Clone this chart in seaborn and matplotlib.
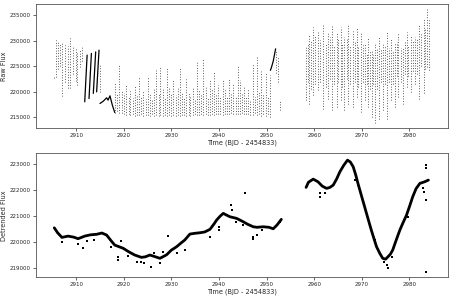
import numpy as np
import pandas as pd
import matplotlib.pyplot as plt
import seaborn as sns

# ---------------- raw flux (top panel) ----------------
# dotted near-vertical streaks: time, lowest flux, highest flux
streak_t = [2905.3, 2905.7, 2906.2, 2906.7, 2907.1, 2907.6, 2908.2, 2908.8, 2909.4, 2909.9,
            2910.2, 2910.8, 2911.2, 2915.0,
            2918.1, 2918.5, 2919.1, 2919.6, 2920.1, 2920.5, 2921.0, 2921.4, 2921.9, 2922.3,
            2922.8, 2923.2, 2923.7, 2924.1, 2924.6, 2925.0, 2925.5, 2925.9, 2926.4, 2926.8,
            2927.3, 2927.7, 2928.2, 2928.6, 2929.1, 2929.5, 2930.0, 2930.4, 2930.9, 2931.3,
            2931.8, 2932.2, 2932.7, 2933.1, 2933.6, 2934.0, 2934.5, 2934.9, 2935.4, 2935.8,
            2936.3, 2936.7, 2937.2, 2937.6, 2938.1, 2938.5, 2939.0, 2939.4, 2939.9, 2940.3,
            2940.8, 2941.2, 2941.7, 2942.1, 2942.6, 2943.0, 2943.5, 2943.9, 2944.4, 2944.8,
            2945.3, 2945.7, 2946.2, 2946.6, 2947.1, 2947.5, 2948.0, 2948.4, 2948.9, 2949.3,
            2949.8, 2950.2, 2950.7, 2952.0, 2952.4, 2952.8,
            2958.3, 2958.6, 2959.0, 2959.4, 2959.8, 2960.2, 2960.7, 2961.3, 2961.9, 2962.4,
            2963.0, 2963.4, 2963.7, 2964.2, 2964.7, 2965.1, 2965.6, 2965.9, 2966.3, 2966.8,
            2967.2, 2967.6, 2968.1, 2968.5, 2968.9, 2969.3, 2969.8, 2970.2, 2970.7, 2971.0,
            2971.4, 2971.8, 2972.1, 2972.4, 2972.8, 2973.3, 2973.7, 2974.1, 2974.5, 2974.9,
            2975.2, 2975.7, 2976.1, 2976.5, 2977.0, 2977.3, 2977.7, 2978.2, 2978.6, 2979.0,
            2979.4, 2979.8, 2980.3, 2980.7, 2981.2, 2981.6, 2982.1, 2982.5, 2983.0, 2983.3,
            2983.6, 2984.2]
streak_lo = [222700, 222900, 224500, 225000, 219100, 221900, 220800, 220700, 223500, 222100,
             221300, 224900, 226000, 220000,
             215900, 216200, 215800, 215900, 215600, 215500, 215700, 215400, 215600, 215300,
             215500, 215400, 215600, 215300, 215500, 215400, 215300, 215600, 215300, 215400,
             215200, 215500, 215300, 215400, 215300, 215500, 215200, 215400, 215300, 215400,
             215300, 215500, 215400, 215300, 215500, 215300, 215400, 215600, 215400, 215500,
             215600, 215400, 215600, 215500, 215400, 215700, 215500, 215600, 215600, 215700,
             215500, 215700, 215600, 215700, 215800, 215600, 215700, 215600, 215700, 215800,
             215600, 215700, 215600, 215500, 215400, 215800, 215500, 215600, 215300, 215700,
             215300, 215600, 215100, 223600, 222000, 216400,
             218400, 222000, 217700, 220500, 219300, 221500, 220300, 222000, 216700, 221000,
             218700, 222500, 216400, 221500, 217100, 222000, 218400, 221000, 216400, 222500,
             217700, 221500, 217100, 222000, 219000, 221000, 216000, 222000, 218400, 221500,
             217100, 220500, 215100, 221500, 214000, 220500, 214800, 222000, 216400, 221500,
             214800, 222000, 218400, 221500, 217100, 223000, 219000, 222000, 217700, 223500,
             220900, 223000, 220000, 224000, 221600, 223500, 218700, 225000, 219700, 224500,
             224900, 224200]
streak_hi = [223000, 230100, 229800, 229500, 229500, 229100, 228900, 230500, 228800, 228300,
             227800, 228100, 229000, 225200,
             222000, 219500, 225500, 220300, 219700, 221500, 219000, 220200, 218800, 221300,
             219300, 222900, 219000, 220400, 218700, 223000, 219600, 218600, 220800, 224200,
             219700, 224900, 220500, 218900, 224900, 221000, 219500, 222300, 219300, 220700,
             224900, 219800, 218800, 222600, 220000, 219000, 221000, 218600, 225800, 220500,
             219500, 226500, 221200, 219000, 222300, 220500, 223900, 219500, 221400, 219200,
             222600, 220300, 219000, 222800, 219800, 221500, 218900, 225100, 222300, 219600,
             221000, 219000, 220500, 218500, 225700, 219000, 226800, 220000, 224200, 219300,
             223600, 219000, 223300, 228100, 226800, 218400,
             228800, 229500, 231100, 230000, 232700, 231000, 231800, 230200, 233100, 229600,
             231400, 230800, 233100, 229000, 231700, 230500, 232700, 229300, 230800, 230300,
             233000, 229000, 231800, 229800, 232700, 228800, 231700, 229200, 229500, 227500,
             230500, 228000, 228200, 227200, 229500, 228600, 230800, 228300, 229500, 229000,
             231700, 228600, 230500, 228000, 229500, 229800, 231400, 228500, 228800, 229800,
             231700, 229200, 231100, 230000, 230800, 230500, 233000, 231500, 234300, 232500,
             236100, 234000]

# solid runs (closely packed points that read as lines)
run_id = [0, 0, 1, 1, 2, 2, 3, 3,
          4, 4, 4, 4, 4, 4, 4,
          5, 5, 5, 5]
run_t = [2911.8, 2912.3, 2912.7, 2913.2, 2913.6, 2914.1, 2914.3, 2914.8,
         2915.0, 2915.7, 2916.4, 2916.7, 2917.1, 2917.6, 2918.1,
         2950.8, 2951.0, 2951.4, 2951.9]
run_flux = [218050, 227180, 218700, 227500, 219700, 227800, 220000, 228150,
            217730, 218190, 218840, 218380, 219230, 217410, 215970,
            224200, 224700, 226000, 228400]

# ---------------- detrended flux (bottom panel) ----------------
det_seg = [0] * 48 + [1] * 38
det_t = [2905.4, 2906.1, 2907.0, 2908.3, 2909.5, 2910.4, 2911.8, 2913.0, 2914.3, 2915.4,
         2916.4, 2917.3, 2918.1, 2919.9, 2921.0, 2922.3, 2923.7, 2924.5, 2925.5, 2926.5,
         2927.6, 2928.5, 2929.0, 2930.0, 2931.1, 2932.0, 2932.8, 2933.9, 2935.0, 2936.0,
         2937.0, 2938.1, 2939.0, 2939.5, 2940.3, 2940.9, 2941.6, 2942.3, 2943.7, 2945.1,
         2946.0, 2947.2, 2948.0, 2949.3, 2950.5, 2951.4, 2952.2, 2953.1,
         2958.3, 2958.8, 2959.8, 2960.8, 2961.7, 2962.6, 2963.3, 2964.0, 2964.7, 2965.4,
         2966.2, 2967.0, 2967.6, 2968.2, 2968.7, 2969.2, 2969.9, 2970.6, 2971.3, 2972.0,
         2972.6, 2973.1, 2973.8, 2974.4, 2975.0, 2975.5, 2976.0, 2976.5, 2977.2, 2978.0,
         2978.7, 2979.4, 2980.0, 2980.7, 2981.4, 2982.2, 2983.2, 2984.0]
det_flux = [220540, 220350, 220170, 220220, 220180, 220120, 220220, 220270, 220290, 220340,
            220260, 220050, 219875, 219748, 219620, 219490, 219400, 219420, 219490, 219430,
            219363, 219450, 219500, 219680, 219810, 219950, 220068, 220300, 220330, 220350,
            220380, 220480, 220700, 220840, 221000, 221098, 221030, 220967, 220905, 220774,
            220680, 220581, 220560, 220581, 220560, 220504, 220650, 220867,
            222100, 222300, 222420, 222317, 222150, 222062, 222100, 222189, 222420, 222702,
            222950, 223153, 223080, 222895, 222600, 222255, 221800, 221352, 220900, 220454,
            220100, 219810, 219550, 219363, 219330, 219424, 219520, 219683, 220050, 220454,
            220750, 221032, 221350, 221738, 222050, 222255, 222317, 222382]

out_t = [2907.0, 2910.4, 2911.5, 2912.2, 2913.8, 2917.4, 2918.7, 2918.7, 2919.5, 2920.8,
         2922.7, 2923.6, 2924.3, 2925.7, 2926.4, 2927.6, 2928.2, 2929.3, 2931.1, 2932.8,
         2938.1, 2940.0, 2940.1, 2942.6, 2942.8, 2943.5, 2945.1, 2945.4, 2947.2, 2947.2,
         2948.0, 2949.1, 2952.8,
         2961.2, 2961.3, 2962.2, 2965.7, 2968.5, 2969.2, 2972.7, 2974.7, 2975.2, 2975.6,
         2976.3, 2979.7, 2982.8, 2983.0, 2983.4, 2983.4, 2983.4, 2983.4]
out_flux = [220000, 219915, 219750, 220040, 220070, 219790, 219410, 219300, 220030, 219450,
            219230, 219230, 219170, 219040, 219550, 219190, 219620, 220220, 219550, 219680,
            220200, 220450, 220590, 221420, 221230, 220770, 220650, 221870, 220170, 220100,
            220280, 220450, 220770,
            221870, 221740, 221870, 222770, 222380, 222190, 220070, 219230, 219110, 218980,
            219420, 220970, 222060, 221930, 222960, 222830, 221610, 218850]

# ---------------- tables ----------------
n = len(streak_t)
streaks = pd.DataFrame({
    "id": np.repeat(np.arange(n), 2),
    "time": np.repeat(streak_t, 2),
    "flux": np.column_stack([streak_lo, streak_hi]).ravel(),
})
runs = pd.DataFrame({"id": run_id, "time": run_t, "flux": run_flux})
det = pd.DataFrame({"seg": det_seg, "time": det_t, "flux": det_flux})
outl = pd.DataFrame({"time": out_t, "flux": out_flux})

sns.set_style("ticks")
plt.rcParams['font.family'] = ['DejaVu Sans']

fig, (ax1, ax2) = plt.subplots(2, 1, figsize=(4.52, 2.97), dpi=100)
fig.subplots_adjust(left=0.079, right=0.991, top=0.9865, bottom=0.0663, hspace=0.20)

sns.lineplot(data=streaks, x="time", y="flux", units="id", estimator=None, sort=False,
             color="k", lw=0.55, linestyle=(0, (1, 2.4)), ax=ax1)
sns.lineplot(data=runs, x="time", y="flux", units="id", estimator=None, sort=False,
             color="k", lw=0.9, ax=ax1)

sns.lineplot(data=det, x="time", y="flux", units="seg", estimator=None, sort=False,
             color="k", lw=2.0, ax=ax2)
sns.scatterplot(data=outl, x="time", y="flux", color="k", s=1.5, marker="s",
                linewidth=0, ax=ax2)

ax1.set_ylim(212900, 237150)
ax2.set_ylim(218630, 223425)
ax1.set_yticks([215000, 220000, 225000, 230000, 235000])
ax2.set_yticks([219000, 220000, 221000, 222000, 223000])

for ax, lab in [(ax1, "Raw Flux"), (ax2, "Detrended Flux")]:
    ax.set_xlim(2901.5, 2988.1)
    ax.set_xticks(range(2910, 2990, 10))
    ax.ticklabel_format(axis="y", style="plain", useOffset=False)
    ax.set_xlabel("Time (BJD - 2454833)", fontsize=4.7, labelpad=1)
    ax.set_ylabel(lab, fontsize=4.7, labelpad=2)
    ax.tick_params(labelsize=4.0, length=2, width=0.5, pad=1.5)
    for s in ax.spines.values():
        s.set_linewidth(0.6)
        s.set_color("#555555")

fig.savefig("out.png", dpi=100)
